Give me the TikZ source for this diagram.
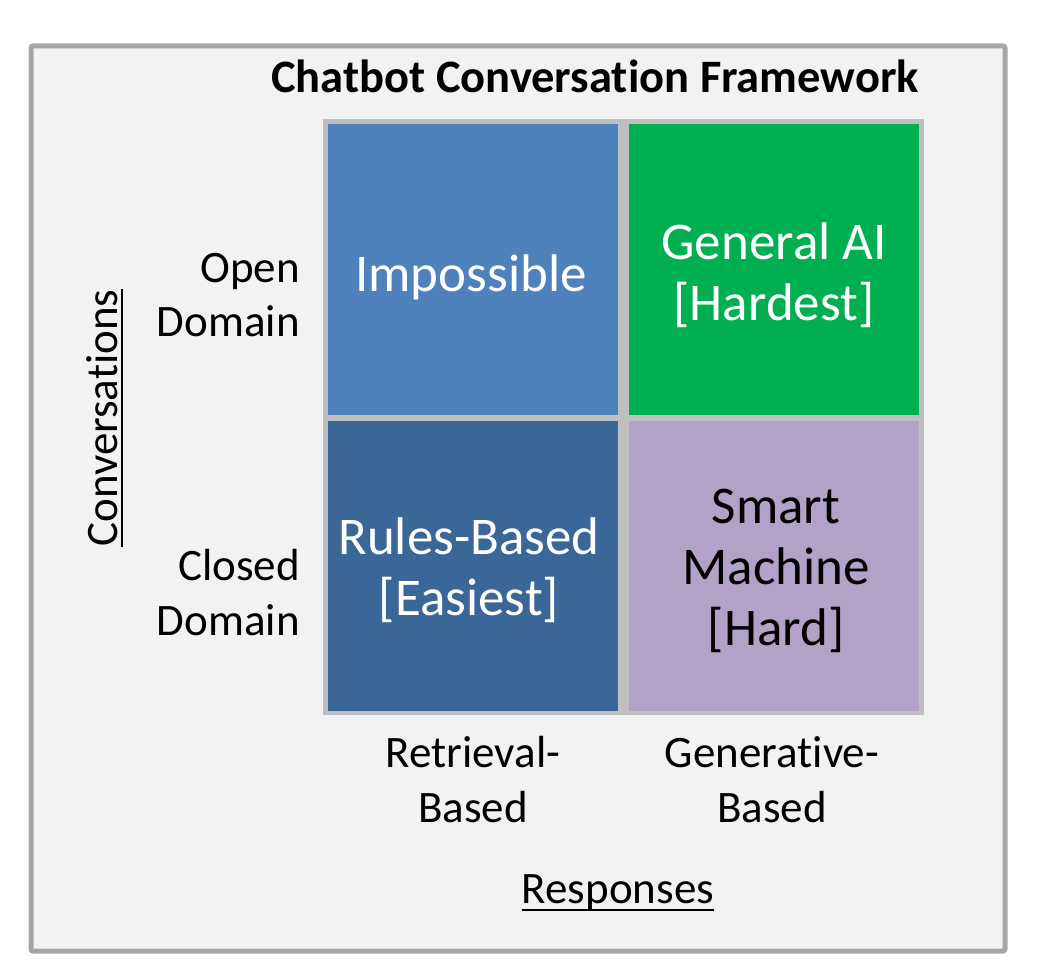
\documentclass[tikz,border=0pt]{standalone}
\usepackage{fontspec}
\setmainfont{Carlito}[Ligatures=NoCommon]
\usepackage{xcolor}
\definecolor{framegray}{HTML}{A6A6A6}
\definecolor{paper}{HTML}{F2F2F2}
\definecolor{gridgray}{HTML}{BFBFBF}
\definecolor{impblue}{HTML}{4F81BD}
\definecolor{rulesblue}{HTML}{3B6698}
\definecolor{aigreen}{HTML}{00B050}
\definecolor{smartpurple}{HTML}{B3A2C7}

\begin{document}
\begin{tikzpicture}[x=1pt, y=-1pt,
    cell/.style={rectangle, draw=none, inner sep=0pt, minimum width=290pt, minimum height=290pt},
    celltext/.style={font=\fontsize{53}{61}\selectfont, align=center, anchor=base, inner sep=0pt},
    axistext/.style={font=\fontsize{45}{54.5}\selectfont, inner sep=0pt}]
\useasboundingbox (0,0) rectangle (1060,976);
% frame and grid backing
\draw[line width=5pt, draw=framegray, fill=paper, rounded corners=2pt] (31,46) rectangle (1005,951);
\fill[gridgray] (323,119) rectangle (924,715);
\foreach \name/\x/\y/\col in {impossible/473/269.5/impblue, generalai/773.5/269.5/aigreen,
                              rulesbased/473/565.5/rulesblue, smartmachine/773.5/565.5/smartpurple}
    \node[cell, fill=\col] (\name) at (\x,\y) {};
% title
\node[font=\bfseries\fontsize{46.5}{56}\selectfont, anchor=base, inner sep=0pt] (title) at (595,93) {Chatbot Conversation Framework};
% cell labels (base = last line)
\node[celltext, text=white] (impossibletext) at (471,292) {Impossible};
\node[celltext, text=white] (generalaitext) at (774,320) {General AI\\{}[Hardest]};
\node[celltext, text=white] (rulesbasedtext) at (469,615) {Rules-Based\\{}[Easiest]};
\node[celltext, text=black] (smartmachinetext) at (776,645) {Smart\\Machine\\{}[Hard]};
% axis labels
\node[axistext, align=right, anchor=base east] (open) at (300,337) {Open\\Domain};
\node[axistext, align=right, anchor=base east] (closed) at (300,635) {Closed\\Domain};
\node[axistext, align=center, anchor=base] (retrieval) at (473,822) {Retrieval-\\Based};
\node[axistext, align=center, anchor=base] (generative) at (772,822) {Generative-\\Based};
\node[axistext, anchor=base] (responses) at (618,903) {Responses};
\node[axistext, anchor=base, rotate=90] (conversations) at (117,418) {Conversations};
% underlines
\draw[line width=2pt] ([yshift=-7pt]responses.base west) -- ([yshift=-7pt]responses.base east);
\draw[line width=2pt] ([xshift=5pt]conversations.base west) -- ([xshift=5pt]conversations.base east);
\end{tikzpicture}
\end{document}
